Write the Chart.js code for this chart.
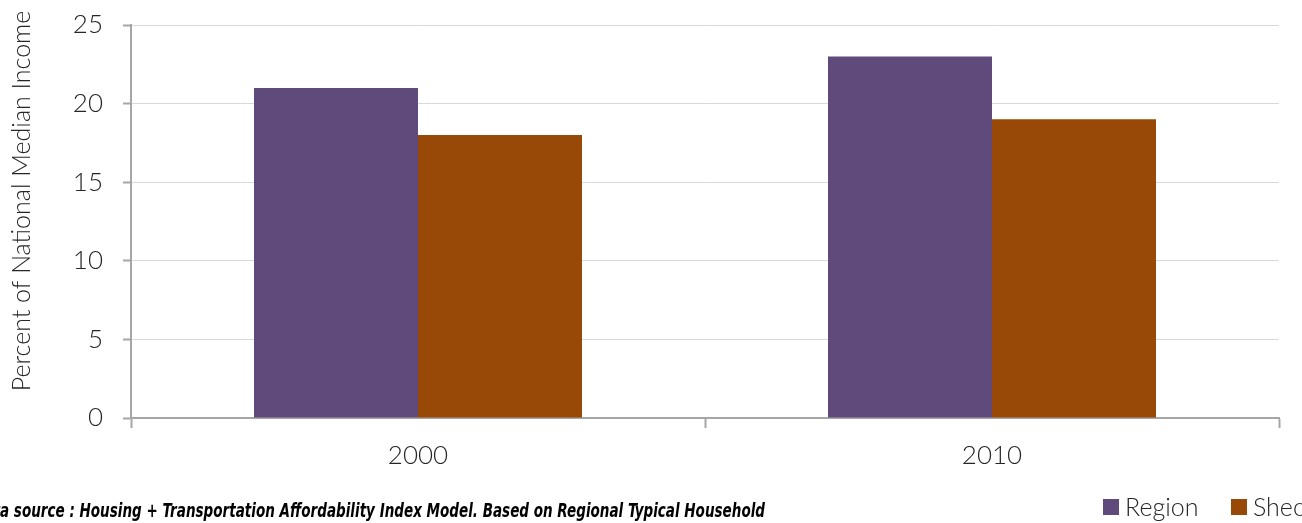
<!DOCTYPE html>
<html>
<head>
<meta charset="utf-8">
<script src="https://cdn.jsdelivr.net/npm/chart.js@4.4.0/dist/chart.umd.min.js"></script>
<style>
  html, body { margin: 0; padding: 0; background: #ffffff; overflow: hidden; }
  #wrap { width: 1302px; height: 523px; position: relative; }
</style>
</head>
<body>
<div id="wrap"><canvas id="c" width="1302" height="523"></canvas></div>
<script>
// Housing + transportation cost burden, percent of national median income
const years = ['2000', '2010'];
const seriesNames = ['Region', 'Shec'];
const regionShare = [21, 23];
const shecShare = [18, 19];
const yTickValues = [0, 5, 10, 15, 20, 25];
const yAxisTitle = 'Percent of National Median Income';
const sourceNote = 'Data source : Housing + Transportation Affordability Index Model. Based on Regional Typical Household';

const seriesColors = ['#604A7B', '#984807'];
const lightFont = "Lato, 'Open Sans', 'DejaVu Sans', sans-serif";
const textColor = '#262626';
const axisColor = '#a6a6a6';

// Axis title, source note and legend painted straight onto the canvas
const decorations = {
  id: 'decorations',
  afterDraw(chart) {
    const ctx = chart.ctx;

    // rotated y-axis title
    ctx.save();
    ctx.translate(22, 201);
    ctx.rotate(-Math.PI / 2);
    ctx.font = '300 25px ' + lightFont;
    ctx.fillStyle = textColor;
    ctx.textAlign = 'center';
    ctx.textBaseline = 'middle';
    ctx.fillText(yAxisTitle, 0, 0);
    ctx.restore();

    // source note, condensed bold italic, running off the left edge
    ctx.save();
    ctx.font = "italic bold 19px 'Liberation Sans Narrow', 'DejaVu Sans Condensed', 'Liberation Sans', sans-serif";
    ctx.fillStyle = '#000000';
    ctx.textBaseline = 'alphabetic';
    const lead = 'Dat';
    const visible = sourceNote.slice(lead.length);
    const scaleX = 765 / ctx.measureText(visible).width;
    ctx.translate(0, 517);
    ctx.scale(scaleX, 1);
    ctx.fillText(sourceNote, -ctx.measureText(lead).width, 0);
    ctx.restore();

    // legend, bottom right
    ctx.save();
    ctx.font = '300 25px ' + lightFont;
    ctx.textBaseline = 'alphabetic';
    const legendX = [1103, 1231];
    chart.data.datasets.forEach((ds, i) => {
      const x = legendX[i];
      ctx.fillStyle = ds.backgroundColor;
      ctx.fillRect(x, 499, 16, 16);
      ctx.fillStyle = textColor;
      ctx.fillText(ds.label, x + 22, 516);
    });
    ctx.restore();
  }
};

new Chart(document.getElementById('c'), {
  type: 'bar',
  data: {
    labels: years,
    datasets: [
      { label: seriesNames[0], data: regionShare, backgroundColor: seriesColors[0] },
      { label: seriesNames[1], data: shecShare, backgroundColor: seriesColors[1] }
    ]
  },
  options: {
    responsive: false,
    animation: false,
    devicePixelRatio: 1,
    layout: { padding: { left: 0, right: 23, top: 25, bottom: 0 } },
    datasets: { bar: { categoryPercentage: 328 / 574, barPercentage: 1.0, borderWidth: 0 } },
    plugins: {
      legend: { display: false },
      tooltip: { enabled: false },
      title: { display: false }
    },
    scales: {
      x: {
        afterFit(scale) { scale.height = 105; scale.paddingLeft = 0; scale.paddingRight = 0; },
        border: { display: true, color: axisColor, width: 2 },
        grid: { display: true, drawOnChartArea: false, drawTicks: true, tickLength: 10, tickColor: axisColor, tickWidth: 2, offset: true },
        ticks: { color: textColor, font: { family: lightFont, size: 26, weight: 300 }, padding: 12 }
      },
      y: {
        min: 0,
        max: 25,
        afterFit(scale) { scale.width = 131; scale.paddingTop = 0; scale.paddingBottom = 0; },
        afterBuildTicks(scale) { scale.ticks = yTickValues.map(v => ({ value: v })); },
        border: { display: true, color: axisColor, width: 2 },
        grid: { color: '#d9d9d9', lineWidth: 1, drawTicks: true, tickLength: 8, tickColor: axisColor, tickWidth: 2 },
        ticks: { color: textColor, font: { family: lightFont, size: 26, weight: 300 }, padding: 20 }
      }
    }
  },
  plugins: [decorations]
});
</script>
</body>
</html>
